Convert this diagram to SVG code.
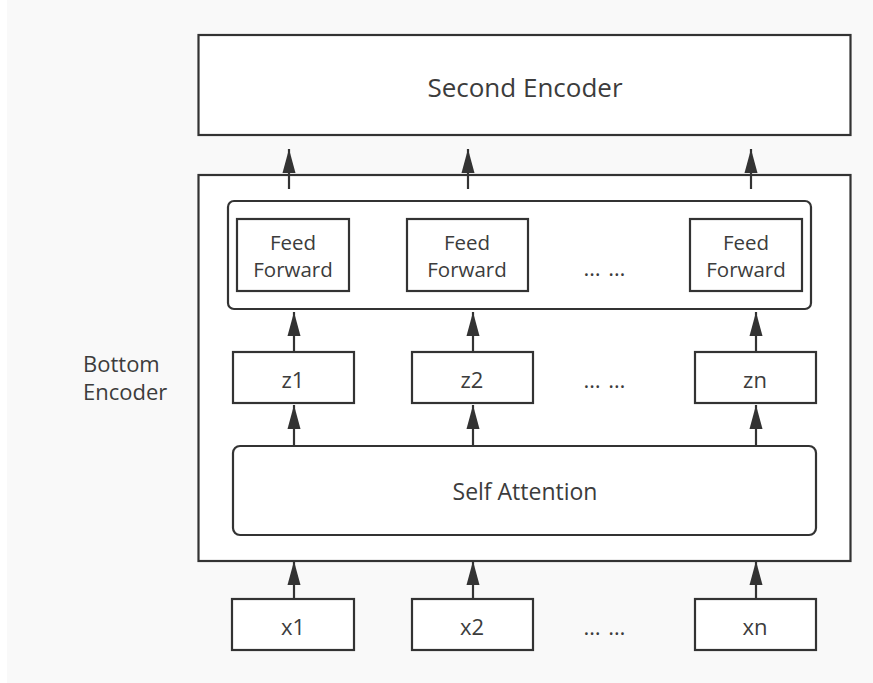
<svg xmlns="http://www.w3.org/2000/svg" width="873" height="683" viewBox="0 0 873 683">
  <style>
    .box { fill: #ffffff; stroke: #333333; stroke-width: 2.2; }
    .frame { fill: none; stroke: #333333; stroke-width: 2.2; }
    .lbl { font-family: "Open Sans", "Noto Sans", "DejaVu Sans", sans-serif; fill: #3c3c3c; text-anchor: middle; }
    .big { font-size: 26px; }
    .mid { font-size: 22px; }
    .ff { font-size: 20.5px; }
    .sa { font-size: 23px; }
    .dots { font-size: 22px; letter-spacing: 1px; }
    .side { font-size: 22px; text-anchor: start; }
    .conn { stroke: #333333; stroke-width: 2.2; fill: none; marker-end: url(#head); }
  </style>
  <defs>
    <marker id="head" markerUnits="userSpaceOnUse" markerWidth="24" markerHeight="14" viewBox="0 -7 24 14" refX="24" refY="0" orient="auto">
      <path d="M0,-6.5 L24,0 L0,6.5 z" fill="#333333"/>
    </marker>
  </defs>

  <!-- page background -->
  <rect x="0" y="0" width="873" height="683" fill="#ffffff"/>
  <rect x="7" y="0" width="866" height="683" fill="#f9f9f9"/>

  <g id="second-encoder">
    <rect class="box" x="198.5" y="35" width="652" height="100"/>
    <text class="lbl big" x="525" y="97">Second Encoder</text>
  </g>

  <g id="bottom-encoder">
    <rect class="box" x="198.5" y="175" width="652" height="386"/>
    <text class="lbl side" x="83" y="372">Bottom</text>
    <text class="lbl side" x="83" y="400">Encoder</text>
  </g>

  <g id="feed-forward-layer">
    <rect class="frame" x="228" y="201" width="583" height="108" rx="6" ry="6"/>
  </g>

  <g id="ff1">
    <rect class="box" x="237" y="219" width="112" height="72"/>
    <text class="lbl ff" x="293" y="250">Feed</text>
    <text class="lbl ff" x="293" y="277">Forward</text>
  </g>
  <g id="ff2">
    <rect class="box" x="407" y="219" width="121" height="72"/>
    <text class="lbl ff" x="467" y="250">Feed</text>
    <text class="lbl ff" x="467" y="277">Forward</text>
  </g>
  <g id="ff-dots">
    <text class="lbl dots" x="605" y="276">… …</text>
  </g>
  <g id="ffn">
    <rect class="box" x="690" y="219" width="112" height="72"/>
    <text class="lbl ff" x="746" y="250">Feed</text>
    <text class="lbl ff" x="746" y="277">Forward</text>
  </g>

  <g id="z1">
    <rect class="box" x="233" y="352" width="121" height="51"/>
    <text class="lbl mid" x="293" y="388">z1</text>
  </g>
  <g id="z2">
    <rect class="box" x="412" y="352" width="121" height="51"/>
    <text class="lbl mid" x="472" y="388">z2</text>
  </g>
  <g id="z-dots">
    <text class="lbl dots" x="605" y="388">… …</text>
  </g>
  <g id="zn">
    <rect class="box" x="695" y="352" width="121" height="51"/>
    <text class="lbl mid" x="755" y="388">zn</text>
  </g>

  <g id="self-attention">
    <rect class="box" x="233" y="446" width="583" height="89" rx="7" ry="7"/>
    <text class="lbl sa" x="525" y="500">Self Attention</text>
  </g>

  <g id="x1">
    <rect class="box" x="232" y="599" width="122" height="51"/>
    <text class="lbl mid" x="293" y="635">x1</text>
  </g>
  <g id="x2">
    <rect class="box" x="412" y="599" width="121" height="51"/>
    <text class="lbl mid" x="472" y="635">x2</text>
  </g>
  <g id="x-dots">
    <text class="lbl dots" x="605" y="635">… …</text>
  </g>
  <g id="xn">
    <rect class="box" x="695" y="599" width="121" height="51"/>
    <text class="lbl mid" x="755" y="635">xn</text>
  </g>

  <g id="connectors">
    <!-- bottom encoder to second encoder -->
    <line class="conn" x1="289" y1="189" x2="289" y2="149"/>
    <line class="conn" x1="468" y1="189" x2="468" y2="149"/>
    <line class="conn" x1="751" y1="189" x2="751" y2="149"/>
    <!-- z to feed forward -->
    <line class="conn" x1="294" y1="352" x2="294" y2="312"/>
    <line class="conn" x1="473" y1="352" x2="473" y2="312"/>
    <line class="conn" x1="756" y1="352" x2="756" y2="312"/>
    <!-- self attention to z -->
    <line class="conn" x1="294" y1="446" x2="294" y2="405"/>
    <line class="conn" x1="473" y1="446" x2="473" y2="405"/>
    <line class="conn" x1="756" y1="446" x2="756" y2="405"/>
    <!-- inputs to bottom encoder -->
    <line class="conn" x1="294" y1="599" x2="294" y2="561"/>
    <line class="conn" x1="473" y1="599" x2="473" y2="561"/>
    <line class="conn" x1="756" y1="599" x2="756" y2="561"/>
  </g>
</svg>
